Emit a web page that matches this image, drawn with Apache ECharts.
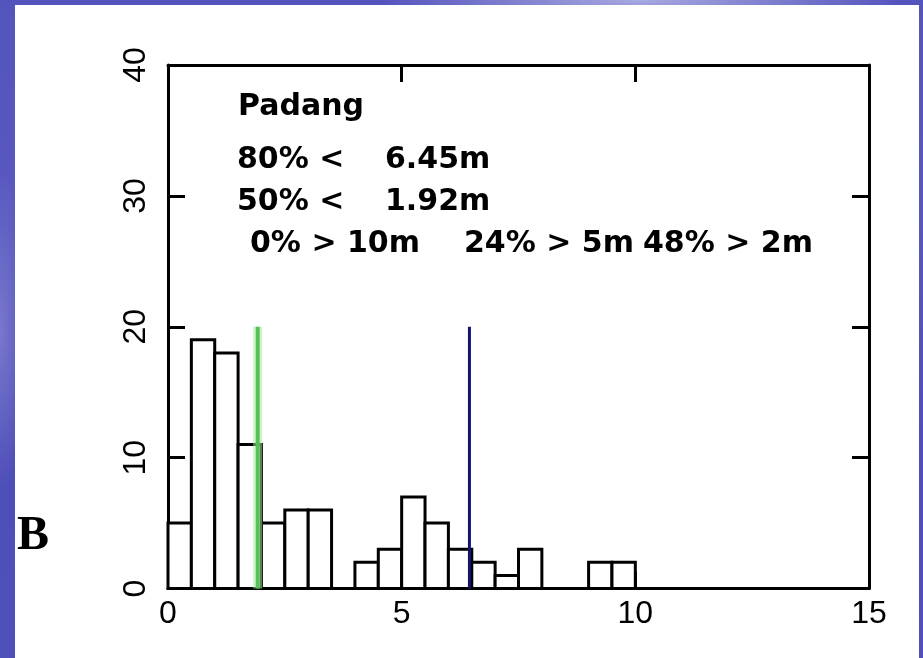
<!DOCTYPE html>
<html><head><meta charset="utf-8">
<script src="https://cdn.jsdelivr.net/npm/echarts@6/dist/echarts.min.js"></script>
<style>
html,body{margin:0;padding:0;width:923px;height:658px;overflow:hidden;}
body{background:
  radial-gradient(ellipse 260px 30px at 640px 0px, rgba(170,170,225,1) 0%, rgba(170,170,225,0) 100%),
  radial-gradient(ellipse 30px 160px at 0px 330px, rgba(120,120,205,1) 0%, rgba(120,120,205,0) 100%),
  linear-gradient(180deg,#5454bd 0%, #5858c0 30%, #4e4eb8 70%, #5050ba 100%);}
#panel{position:absolute;left:15px;top:5px;width:904px;height:653px;background:#fff;}
#chart{position:absolute;left:0;top:0;width:923px;height:658px;}
</style></head>
<body><div id="panel"></div><div id="chart"></div>
<script>
// ---- data ----
const binStarts = [0, 0.5, 1, 1.5, 2, 2.5, 3, 3.5, 4, 4.5, 5, 5.5, 6, 6.5, 7, 7.5, 8, 8.5, 9, 9.5];
const binEnds   = [0.5, 1, 1.5, 2, 2.5, 3, 3.5, 4, 4.5, 5, 5.5, 6, 6.5, 7, 7.5, 8, 8.5, 9, 9.5, 10];
const counts    = [5, 19, 18, 11, 5, 6, 6, 0, 2, 3, 7, 5, 3, 2, 1, 3, 0, 0, 2, 2];
const medianLine = [[1.92, 0], [1.92, 20]];
const p80Line    = [[6.45, 0], [6.45, 20]];
const xTickLabels = ['0', '5', '10', '15'];
const yTickLabels = ['0', '10', '20', '30', '40'];
const annotationTexts = ['Padang', '80% <', '6.45m', '50% <', '1.92m', '0% > 10m', '24% > 5m', '48% > 2m'];
const panelLetter = 'B';

// ---- layout (positions only) ----
const annotationPos = [[238, 92], [237, 145], [385, 145], [237, 187], [385, 187], [250, 229], [464, 229], [643, 229]];

const chart = echarts.init(document.getElementById('chart'), null, {renderer: 'canvas'});
const histData = binStarts.map((s, i) => [s, binEnds[i], counts[i]]);
const axisFont = {fontSize: 32, color: '#000', fontFamily: '"Liberation Sans", Arial, sans-serif'};
const lineCol = {color: '#000', width: 3};

function xAx(pos, showLabel) {
  return {type: 'value', position: pos, min: 0, max: 15, interval: 5,
    axisLine: {show: true, onZero: false, lineStyle: lineCol},
    axisTick: {show: true, inside: true, length: 17, lineStyle: lineCol},
    axisLabel: Object.assign({show: showLabel, margin: 10,
      formatter: v => xTickLabels[Math.round(v / 5)]}, axisFont),
    splitLine: {show: false}};
}
function yAx(pos, showLabel) {
  return {type: 'value', position: pos, min: 0, max: 40, interval: 10,
    axisLine: {show: true, onZero: false, lineStyle: lineCol},
    axisTick: {show: true, inside: true, length: 17, lineStyle: lineCol},
    axisLabel: Object.assign({show: showLabel, margin: 16, rotate: 90,
      formatter: v => yTickLabels[Math.round(v / 10)]}, axisFont),
    splitLine: {show: false}};
}

const textStyleA = {font: 'bold 30px "DejaVu Sans", sans-serif', fill: '#000', verticalAlign: 'top', align: 'left'};
const graphics = annotationTexts.map((t, i) => ({
  type: 'text', x: annotationPos[i][0], y: annotationPos[i][1], z: 100,
  style: Object.assign({text: t}, textStyleA)
}));
graphics.push({type: 'text', x: 17, y: 513, z: 100,
  style: {text: panelLetter, font: 'bold 48px "Liberation Serif", "Times New Roman", serif', fill: '#000', verticalAlign: 'top', align: 'left'}});

chart.setOption({
  animation: false,
  backgroundColor: 'transparent',
  grid: {left: 168, top: 65, width: 701, height: 523.5, containLabel: false},
  xAxis: [xAx('bottom', true), xAx('top', false)],
  yAxis: [yAx('left', true), yAx('right', false)],
  graphic: graphics,
  series: [
    {type: 'custom', xAxisIndex: 0, yAxisIndex: 0, data: histData, z: 2,
      renderItem: function (params, api) {
        const h = api.value(2);
        if (!h) return null;
        const p0 = api.coord([api.value(0), 0]);
        const p1 = api.coord([api.value(1), h]);
        return {type: 'rect',
          shape: {x: p0[0], y: p1[1], width: p1[0] - p0[0], height: p0[1] - p1[1]},
          style: {fill: '#fff', stroke: '#000', lineWidth: 3}};
      }},
    {type: 'line', data: medianLine, symbol: 'none', z: 3, silent: true,
      lineStyle: {color: 'rgba(160,235,160,0.55)', width: 9}},
    {type: 'line', data: medianLine, symbol: 'none', z: 4, silent: true,
      lineStyle: {color: '#58c058', width: 4}},
    {type: 'line', data: p80Line, symbol: 'none', z: 4, silent: true,
      lineStyle: {color: '#14146f', width: 3}}
  ]
});
</script>
</body></html>
